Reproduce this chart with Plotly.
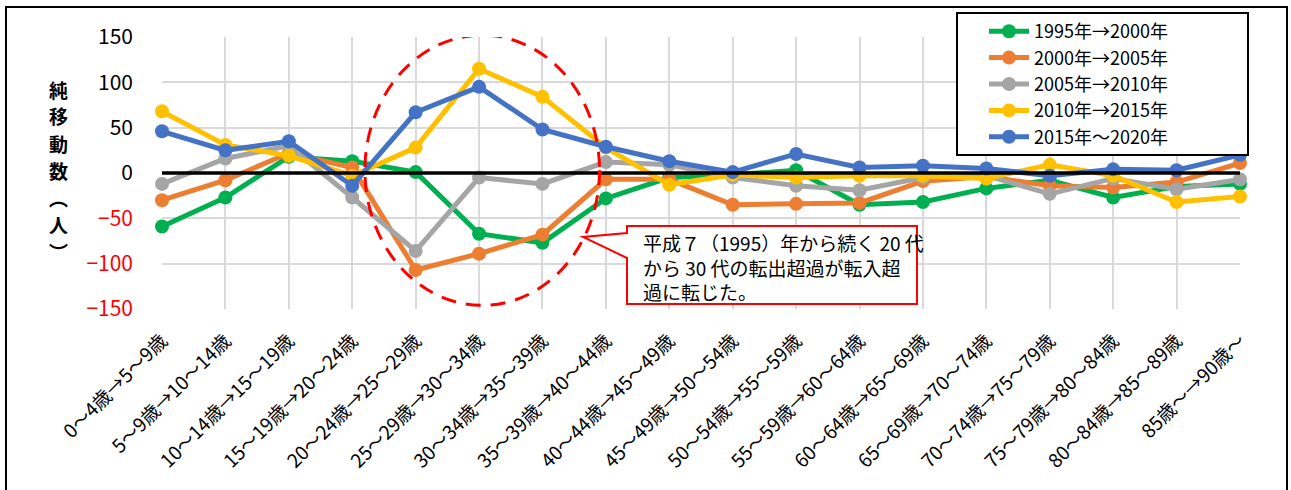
import plotly.graph_objects as go

# Age-group transitions (cohort moving from one 5-year band to the next)
age_groups = [
    "0～4歳→5～9歳", "5～9歳→10～14歳", "10～14歳→15～19歳", "15～19歳→20～24歳",
    "20～24歳→25～29歳", "25～29歳→30～34歳", "30～34歳→35～39歳", "35～39歳→40～44歳",
    "40～44歳→45～49歳", "45～49歳→50～54歳", "50～54歳→55～59歳", "55～59歳→60～64歳",
    "60～64歳→65～69歳", "65～69歳→70～74歳", "70～74歳→75～79歳", "75～79歳→80～84歳",
    "80～84歳→85～89歳", "85歳～→90歳～",
]

# Net migration (persons) per period
net_1995_2000 = [-59, -27, 18, 13, 1, -67, -77, -28, -5, -2, 3, -35, -32, -17, -8, -27, -15, -12]
net_2000_2005 = [-30, -8, 22, 6, -107, -89, -68, -7, -7, -35, -34, -33, -9, -4, -14, -16, -10, 11]
net_2005_2010 = [-12, 16, 30, -27, -86, -5, -12, 12, 9, -5, -14, -19, -5, -3, -23, -6, -18, -7]
net_2010_2015 = [68, 31, 19, -3, 28, 115, 84, 28, -13, -2, -5, -3, -3, -6, 9, -3, -32, -26]
net_2015_2020 = [46, 25, 35, -14, 67, 95, 48, 29, 13, 1, 21, 6, 8, 5, -3, 4, 3, 20]

series_names = ["1995年→2000年", "2000年→2005年", "2005年→2010年", "2010年→2015年", "2015年～2020年"]
series_values = [net_1995_2000, net_2000_2005, net_2005_2010, net_2010_2015, net_2015_2020]
series_colors = ["#00B050", "#ED7D31", "#A5A5A5", "#FFC000", "#4472C4"]

y_ticks = [150, 100, 50, 0, -50, -100, -150]

# vertical axis title, one character per row
title_chars = ["純", "移", "動", "数", "︵", "人", "︶"]

W, H = 1291, 490
L, R, T, B = 162, 1240, 37, 309  # plot-area edges in pixels

FONT = "Noto Sans CJK JP, sans-serif"


def px_x(p):
    return (p - L) / (R - L)


def px_y(p):
    return (B - p) / (B - T)


fig = go.Figure()
for name, vals, color in zip(series_names, series_values, series_colors):
    fig.add_trace(go.Scatter(
        x=age_groups, y=vals, name=name, mode="lines+markers",
        line=dict(color=color, width=5),
        marker=dict(size=14, color=color),
        cliponaxis=False,
    ))

tick_text = [f"{v}" if v >= 0 else f"<span style='color:#FF0000'>−{abs(v)}</span>" for v in y_ticks]

fig.update_layout(
    width=W, height=H,
    margin=dict(l=L, r=W - R, t=T, b=H - B, pad=0, autoexpand=False),
    paper_bgcolor="white", plot_bgcolor="white",
    font=dict(family=FONT, color="black"),
    showlegend=True,
    legend=dict(
        x=px_x(984), y=px_y(13), xanchor="left", yanchor="top",
        bgcolor="rgba(0,0,0,0)", borderwidth=0,
        font=dict(family=FONT, size=18, color="black"),
        tracegroupgap=0, itemwidth=40,
    ),
    xaxis=dict(
        type="category", range=[0, 17], showgrid=True, gridcolor="#D9D9D9", gridwidth=1.5,
        tickangle=-45, tickfont=dict(family=FONT, size=19, color="black"),
        ticks="", ticklabelstandoff=16, showline=False, zeroline=False, automargin=False,
    ),
    yaxis=dict(
        range=[-150, 150], tickvals=y_ticks, ticktext=tick_text,
        showgrid=True, gridcolor="#D9D9D9", gridwidth=1.5,
        tickfont=dict(family=FONT, size=21, color="black"),
        ticks="", ticklabelstandoff=28, showline=False, zeroline=False, automargin=False,
    ),
)

shapes = [
    # outer frame
    dict(type="rect", xref="paper", yref="paper", x0=px_x(6), x1=px_x(1287), y0=px_y(520), y1=px_y(7),
         line=dict(color="black", width=2), fillcolor="rgba(0,0,0,0)", layer="below"),
    # zero baseline
    dict(type="line", xref="x domain", yref="y", x0=0, x1=1, y0=0, y1=0,
         line=dict(color="black", width=3.5), layer="above"),
    # dashed ellipse around the 20s-30s cohorts
    dict(type="circle", xref="x", yref="y", x0=3.2, x1=6.9, y0=-146, y1=152,
         line=dict(color="#FF0000", width=3, dash="15px,10px"), layer="above"),
    # callout box with pointer
    dict(type="path", xref="paper", yref="paper",
         path=(f"M {px_x(627)},{px_y(226)} L {px_x(917)},{px_y(226)} L {px_x(917)},{px_y(304)} "
               f"L {px_x(627)},{px_y(304)} L {px_x(627)},{px_y(258)} L {px_x(583)},{px_y(237)} "
               f"L {px_x(627)},{px_y(233)} Z"),
         line=dict(color="#FF0000", width=2), fillcolor="white", layer="above"),
    # legend frame
    dict(type="rect", xref="paper", yref="paper", x0=px_x(957), x1=px_x(1248), y0=px_y(155), y1=px_y(13),
         line=dict(color="black", width=2), fillcolor="white", layer="above"),
]
fig.update_layout(shapes=shapes)

annotations = [
    dict(xref="paper", yref="paper", x=px_x(641), y=px_y(227), xanchor="left", yanchor="top",
         align="left", showarrow=False,
         text="平成７（1995）年から続く 20 代<br>から 30 代の転出超過が転入超<br>過に転じた。",
         font=dict(family=FONT, size=19, color="black")),
]
for i, ch in enumerate(title_chars):
    annotations.append(dict(
        xref="paper", yref="paper", x=px_x(58), y=px_y(89 + 27 * i),
        xanchor="center", yanchor="middle", showarrow=False,
        text=f"<b>{ch}</b>", font=dict(family=FONT, size=19, color="black"),
    ))
fig.update_layout(annotations=annotations)

fig.write_html("out.html")
